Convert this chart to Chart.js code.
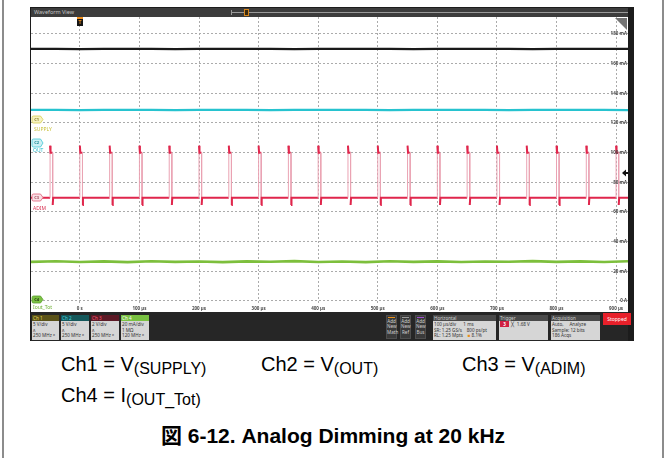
<!DOCTYPE html>
<html>
<head>
<meta charset="utf-8">
<script src="https://cdn.jsdelivr.net/npm/chart.js@4.4.0/dist/chart.umd.min.js"></script>
<style>
  body { margin: 0; width: 666px; height: 458px; background: #fff; position: relative; overflow: hidden;
         font-family: Arial, "Liberation Sans", "Noto Sans CJK JP", sans-serif; }
  .edge { position: absolute; top: 0; width: 2px; height: 458px; background: #8c8c8c; }
  #scope { position: absolute; left: 30px; top: 7px; width: 604px; height: 334px; background: #1c1c1c; }
  #titlebar { position: absolute; left: 1px; top: 1px; width: 597px; height: 9px; background: #3c3c3c; }
  #titlebar .name { position: absolute; left: 3px; top: 0; font: 5.5px/9px "Noto Sans", Arial, sans-serif; color: #c4c4c4; }
  #titlebar .track { position: absolute; left: 200px; top: 4px; width: 397px; height: 1px; background: #9a9a9a; }
  #titlebar .bracket { position: absolute; left: 200px; top: 2px; width: 2px; height: 5px; border-left: 1px solid #9a9a9a; }
  #titlebar .knob { position: absolute; left: 213px; top: 1px; width: 3px; height: 5px; background: #3a2a10; border: 1px solid #d8861c; }
  #plot { position: absolute; left: 1px; top: 10px; background: #fff; }
  #infobar { position: absolute; left: 1px; top: 305px; width: 597px; height: 29px; background: #262626;
             font: 4.6px/5.6px "Noto Sans", Arial, sans-serif; }
  .box { position: absolute; top: 3px; height: 25px; background: #d6d6d6; color: #333; }
  .box .hd { height: 6px; line-height: 6px; padding-left: 1px; }
  .box .bd { padding: 1px 0 0 1px; white-space: pre; }
  .add { position: absolute; top: 3px; width: 11px; height: 24px; background: #3a3a3a; border: 1px solid #4d4d4d;
         color: #cfcfcf; text-align: center; box-sizing: border-box; padding-top: 3px; line-height: 5.4px; }
  .add i { position: absolute; left: 1px; right: 1px; top: 1px; height: 1px; }
  #stopped { position: absolute; left: 572px; top: 1px; width: 28px; height: 12px; background: #e8202a; color: #fff;
             text-align: center; line-height: 12px; font-size: 5px; }
  .cap { position: absolute; font-size: 20px; line-height: 20px; color: #000; white-space: nowrap; }
  .cap span { font-size: 16px; vertical-align: -3px; }
  #figtitle { position: absolute; left: 0; top: 425px; width: 666px; text-align: center; font-weight: bold;
              font-size: 21px; line-height: 21px; }
</style>
</head>
<body>
<div class="edge" style="left:2px"></div>
<div class="edge" style="left:662px"></div>

<div id="scope">
  <div id="titlebar">
    <div class="name">Waveform View</div>
    <div class="track"></div>
    <div class="bracket"></div>
    <div class="knob"></div>
  </div>
  <canvas id="plot" width="597" height="295"></canvas>
  <div id="infobar">
    <div class="box" style="left:1px;width:27px"><div class="hd" style="background:#5a5218;color:#e8dc5a">Ch 1</div><div class="bd">5 V/div
ʌ
250 MHz ᴮ</div></div>
    <div class="box" style="left:30px;width:28px"><div class="hd" style="background:#15585b;color:#48d2de">Ch 2</div><div class="bd">5 V/div
ʌ
250 MHz ᴮ</div></div>
    <div class="box" style="left:60px;width:28px"><div class="hd" style="background:#5c1a26;color:#ff5c74">Ch 3</div><div class="bd">2 V/div
ʌ
250 MHz ᴮ</div></div>
    <div class="box" style="left:90px;width:28px"><div class="hd" style="background:#79c142;color:#fff">Ch 4</div><div class="bd">20 mA/div
1 MΩ
120 MHz ᴮ</div></div>

    <div class="add" style="left:355px"><i style="background:#e8901a"></i>Add<br>New<br>Math</div>
    <div class="add" style="left:369px"><i style="background:#9a9a9a"></i>Add<br>New<br>Ref</div>
    <div class="add" style="left:384px"><i style="background:#a050d0"></i>Add<br>New<br>Bus</div>

    <div class="box" style="left:402px;width:63px"><div class="hd" style="background:#4a4a4a;color:#d0d0d0">Horizontal</div><div class="bd">100 µs/div      1 ms
SR: 1.25 GS/s    800 ps/pt
RL: 1.25 Mpts    <b style="color:#e8901a">■</b> 8.1%</div></div>
    <div class="box" style="left:468px;width:49px"><div class="hd" style="background:#4a4a4a;color:#d0d0d0">Trigger</div><div class="bd"><b style="background:#d02040;color:#fff;padding:0 2px"> 3 </b>  ╳  1.68 V</div></div>
    <div class="box" style="left:520px;width:49px"><div class="hd" style="background:#4a4a4a;color:#d0d0d0">Acquisition</div><div class="bd">Auto,     Analyze
Sample: 12 bits
186 Acqs</div></div>
    <div id="stopped">Stopped</div>
  </div>
</div>

<div class="cap" style="left:61px;top:354px">Ch1 = V<span>(SUPPLY)</span></div>
<div class="cap" style="left:261px;top:354px">Ch2 = V<span>(OUT)</span></div>
<div class="cap" style="left:462px;top:354px">Ch3 = V<span>(ADIM)</span></div>
<div class="cap" style="left:61px;top:385px">Ch4 = I<span>(OUT_Tot)</span></div>
<div id="figtitle">図 6-12. Analog Dimming at 20 kHz</div>

<script>
// screen range: 100 us/div horizontally, 20 mA/div on the display scale
const timeMin = -82, timeMax = 920;
const levelMin = -1.35, levelMax = 191.45;

const timeTicks = [0, 100, 200, 300, 400, 500, 600, 700, 800, 900];
const timeLabels = ["0 s", "100 µs", "200 µs", "300 µs", "400 µs", "500 µs", "600 µs", "700 µs", "800 µs", "900 µs"];
const levelTicks = [0, 20, 40, 60, 80, 100, 120, 140, 160, 180];
const levelLabels = ["0 A", "20 mA", "40 mA", "60 mA", "80 mA", "100 mA", "120 mA", "140 mA", "160 mA", "180 mA"];

// sample times for the flat traces
const traceTimes = [-82, -40, 0, 40, 80, 120, 160, 200, 240, 280, 320, 360, 400, 440, 480, 520,
                    560, 600, 640, 680, 720, 760, 800, 840, 880, 920];
const supplyLevels = [169.9, 170.0, 169.8, 169.9, 170.0, 169.9, 169.8, 169.9, 170.0, 169.9, 169.9, 169.8, 170.0,
                      169.9, 169.9, 170.0, 169.8, 169.9, 169.9, 170.0, 169.9, 169.8, 169.9, 170.0, 169.9, 169.9];
const outLevels = [128.8, 128.9, 128.7, 128.8, 128.8, 128.9, 128.7, 128.8, 128.9, 128.8, 128.7, 128.8, 128.8,
                   128.9, 128.8, 128.7, 128.8, 128.9, 128.8, 128.8, 128.7, 128.8, 128.9, 128.8, 128.8, 128.7];
const currentLevels = [26.4, 26.8, 26.3, 26.7, 26.2, 26.8, 26.4, 26.6, 26.2, 26.7, 26.5, 26.9, 26.3,
                       26.6, 26.2, 26.8, 26.4, 26.7, 26.3, 26.6, 26.5, 26.9, 26.4, 26.7, 26.3, 26.8];

// ADIM: 20 kHz pulse train
const adimPulseStarts = [-50, 0, 50, 100, 150, 200, 250, 300, 350, 400, 450, 500, 550, 600, 650, 700, 750, 800, 850, 900];
const adimPulseWidth = 4.4;
const adimLow = 69.6, adimHigh = 100, adimOvershoot = 104.7, adimUndershoot = 64.7;

const adimPoints = [{ x: timeMin, y: adimLow }];
adimPulseStarts.forEach(t => {
  adimPoints.push(
    { x: t, y: adimLow },
    { x: t, y: adimOvershoot },
    { x: t + 0.8, y: adimHigh },
    { x: t + adimPulseWidth, y: adimHigh },
    { x: t + adimPulseWidth, y: adimUndershoot },
    { x: t + adimPulseWidth + 0.8, y: adimLow }
  );
});
adimPoints.push({ x: timeMax, y: adimLow });

const toPoints = levels => traceTimes.map((t, i) => ({ x: t, y: levels[i] }));
const isEdge = c => c.p0.parsed.x === c.p1.parsed.x;

function badge(ctx, x, y, w, h, fill, stroke, text, textColor) {
  ctx.beginPath();
  ctx.moveTo(x + 1.5, y);
  ctx.lineTo(x + w - 2.5, y);
  ctx.lineTo(x + w, y + h / 2);
  ctx.lineTo(x + w - 2.5, y + h);
  ctx.lineTo(x + 1.5, y + h);
  ctx.quadraticCurveTo(x, y + h, x, y + h - 1.5);
  ctx.lineTo(x, y + 1.5);
  ctx.quadraticCurveTo(x, y, x + 1.5, y);
  ctx.closePath();
  ctx.fillStyle = fill;
  ctx.fill();
  ctx.strokeStyle = stroke;
  ctx.lineWidth = 0.8;
  ctx.stroke();
  ctx.fillStyle = textColor;
  ctx.font = 'bold 4px "Noto Sans", Arial, sans-serif';
  ctx.textAlign = 'center';
  ctx.textBaseline = 'middle';
  ctx.fillText(text, x + w / 2 - 0.8, y + h / 2 + 0.3);
}

const scopeDecor = {
  id: 'scopeDecor',
  afterDraw(chart) {
    const ctx = chart.ctx;
    const xs = chart.scales.x, ys = chart.scales.y;
    const area = chart.chartArea;
    ctx.save();

    // graticule labels
    ctx.font = 'bold 4.5px "Noto Sans", Arial, sans-serif';
    ctx.fillStyle = '#4a4a4a';
    ctx.textBaseline = 'middle';
    ctx.textAlign = 'center';
    xs.ticks.forEach(t => ctx.fillText(timeLabels[timeTicks.indexOf(t.value)], xs.getPixelForValue(t.value), area.bottom + 6));
    ctx.textAlign = 'right';
    ys.ticks.forEach(t => ctx.fillText(levelLabels[levelTicks.indexOf(t.value)], area.right - 1, ys.getPixelForValue(t.value)));

    // trigger position marker
    const tx = Math.round(xs.getPixelForValue(0));
    ctx.fillStyle = '#f0901e';
    ctx.fillRect(tx - 3, 0, 6, 2);
    ctx.fillStyle = '#151515';
    ctx.fillRect(tx - 3, 2, 6, 7);
    ctx.fillStyle = '#f0901e';
    ctx.font = 'bold 5px Arial, sans-serif';
    ctx.textAlign = 'center';
    ctx.fillText('T', tx, 5.8);

    // corner fold
    ctx.fillStyle = '#747474';
    ctx.beginPath();
    ctx.moveTo(area.right - 13, 1);
    ctx.lineTo(area.right - 1, 1);
    ctx.lineTo(area.right - 1, 13);
    ctx.closePath();
    ctx.fill();

    // trigger level arrow
    ctx.fillStyle = '#111';
    ctx.beginPath();
    ctx.moveTo(area.right - 6, 156);
    ctx.lineTo(area.right - 2, 152.5);
    ctx.lineTo(area.right - 2, 159.5);
    ctx.closePath();
    ctx.fill();
    ctx.fillRect(area.right - 2, 155, 2, 2);

    // channel handles
    badge(ctx, 1, 99, 11, 7, '#f6f2c0', '#d8cf50', 'C1', '#8a8020');
    badge(ctx, 1, 122, 11, 8, '#cdeff3', '#40c8d4', 'C2', '#1a8a96');
    badge(ctx, 1, 177, 11, 7, '#f9dfe4', '#e06078', 'C3', '#a04a5a');
    badge(ctx, 1, 279, 11, 7, '#7cc244', '#5aa030', 'C4', '#1f3a10');
    ctx.font = '5px "Noto Sans", Arial, sans-serif';
    ctx.textAlign = 'left';
    ctx.fillStyle = '#c9c13a';
    ctx.fillText('SUPPLY', 3, 113);
    ctx.fillStyle = '#22b8c8';
    ctx.fillText('OUT', 2, 134);
    ctx.fillStyle = '#d83050';
    ctx.fillText('ADIM', 2, 191.5);
    ctx.fillStyle = '#6cb030';
    ctx.fillText('Iout_Tot', 2, 290.5);
    ctx.restore();
  }
};

const gridStyle = { color: '#ababab', lineWidth: 1, drawTicks: false };
const borderStyle = { display: false, dash: [2, 2] };

new Chart(document.getElementById('plot').getContext('2d'), {
  type: 'line',
  data: {
    datasets: [
      { label: 'Ch1', data: toPoints(supplyLevels), borderColor: '#1a1a1a', borderWidth: 2.2 },
      { label: 'Ch2', data: toPoints(outLevels), borderColor: '#27c3cf', borderWidth: 2.2 },
      {
        label: 'Ch3', data: adimPoints, borderColor: '#e0264c', borderWidth: 2,
        segment: {
          borderColor: c => isEdge(c) ? '#eaa3b3' : '#e0264c',
          borderWidth: c => isEdge(c) ? 1 : 2
        }
      },
      { label: 'Ch4', data: toPoints(currentLevels), borderColor: '#7dbf3c', borderWidth: 2.6 }
    ]
  },
  options: {
    responsive: false,
    devicePixelRatio: 1,
    animation: false,
    parsing: false,
    normalized: true,
    elements: { point: { radius: 0 }, line: { tension: 0, borderJoinStyle: 'miter' } },
    layout: { padding: { left: 0, right: 0, top: 0, bottom: 9 } },
    plugins: { legend: { display: false }, tooltip: { enabled: false } },
    scales: {
      x: {
        type: 'linear', min: timeMin, max: timeMax, position: 'bottom',
        afterBuildTicks: axis => { axis.ticks = timeTicks.map(v => ({ value: v })); },
        ticks: { display: false },
        grid: gridStyle, border: borderStyle
      },
      y: {
        type: 'linear', min: levelMin, max: levelMax, position: 'right',
        afterBuildTicks: axis => { axis.ticks = levelTicks.map(v => ({ value: v })); },
        ticks: { display: false },
        grid: gridStyle, border: borderStyle
      }
    }
  },
  plugins: [scopeDecor]
});
</script>
</body>
</html>
